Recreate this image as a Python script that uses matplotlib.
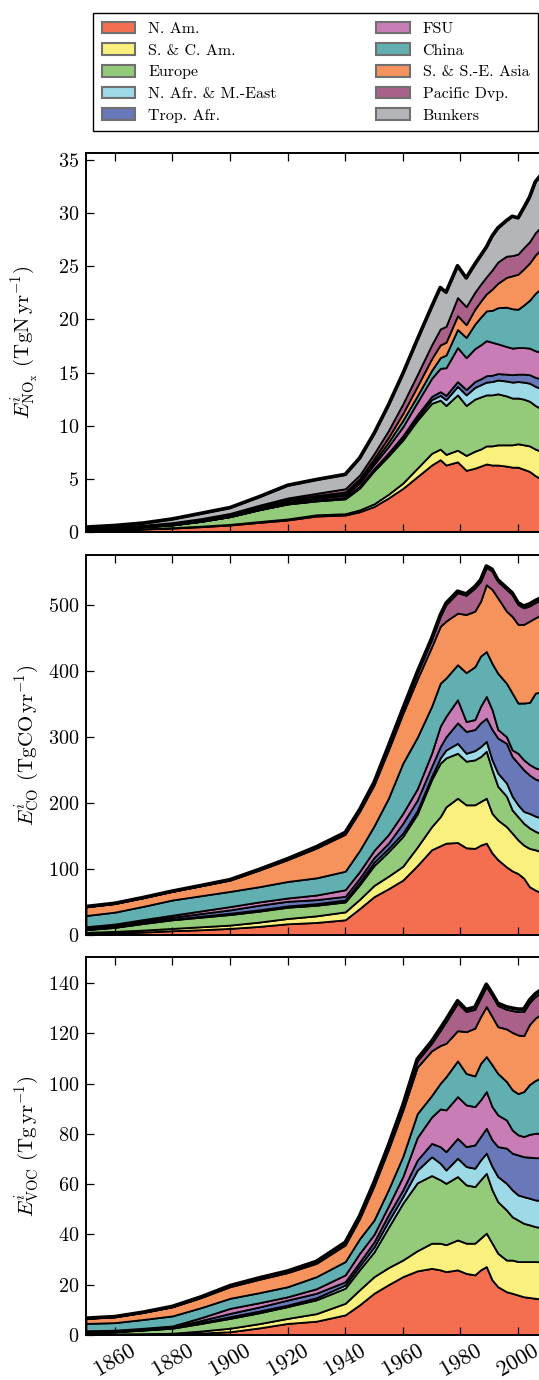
import numpy as np
import matplotlib
matplotlib.use("Agg")
import matplotlib.pyplot as plt
from matplotlib.patches import Patch

plt.rcParams['font.family'] = ['cmr10', 'DejaVu Serif']
plt.rcParams['mathtext.fontset'] = 'cm'
plt.rcParams['axes.formatter.use_mathtext'] = True

years = [1850, 1860, 1870, 1880, 1890, 1900, 1910, 1920, 1930, 1940, 1945, 1950, 1955,
         1960, 1965, 1970, 1973, 1975, 1979, 1982, 1985, 1987, 1989, 1991, 1993, 1996,
         1998, 2000, 2002, 2004, 2006, 2008, 2010]

regions = ["N. Am.", "S. & C. Am.", "Europe", "N. Afr. & M.-East", "Trop. Afr.",
           "FSU", "China", "S. & S.-E. Asia", "Pacific Dvp.", "Bunkers"]
colors = ["#F36F50", "#FAF07D", "#93CB7A", "#9DD9E6", "#6878B8",
          "#C97DB6", "#62AFB1", "#F6925B", "#A9618A", "#B4B5B8"]

# ---- NOx (TgN/yr) ----
nox_nam = [0.15, 0.2, 0.28, 0.37, 0.5, 0.66, 0.9, 1.13, 1.5, 1.6, 1.9, 2.4, 3.2, 4.1, 5.2, 6.3, 6.8, 6.3, 6.6, 5.8, 6.0, 6.2, 6.4, 6.3, 6.3, 6.2, 6.1, 6.1, 5.9, 5.7, 5.3, 5.0, 4.8]
nox_sca = [0.02, 0.02, 0.03, 0.04, 0.05, 0.06, 0.08, 0.1, 0.12, 0.12, 0.18, 0.25, 0.35, 0.5, 0.8, 1.1, 1.0, 1.0, 1.1, 1.4, 1.6, 1.6, 1.7, 1.8, 1.9, 2.0, 2.1, 2.2, 2.3, 2.4, 2.5, 2.6, 2.7]
nox_eur = [0.1, 0.13, 0.18, 0.25, 0.45, 0.72, 1.1, 1.4, 1.3, 1.4, 2.05, 3.1, 3.6, 4.05, 4.5, 4.7, 4.6, 4.6, 5.2, 4.7, 4.9, 4.9, 4.8, 4.8, 4.8, 4.6, 4.4, 4.3, 4.3, 4.2, 4.1, 4.0, 4.0]
nox_nafr = [0.005, 0.005, 0.007, 0.008, 0.008, 0.01, 0.02, 0.03, 0.04, 0.06, 0.08, 0.1, 0.15, 0.2, 0.25, 0.35, 0.45, 0.55, 0.8, 1.0, 1.1, 1.15, 1.2, 1.25, 1.3, 1.4, 1.5, 1.55, 1.6, 1.7, 1.8, 1.9, 2.0]
nox_tafr = [0.01, 0.01, 0.012, 0.015, 0.015, 0.02, 0.03, 0.04, 0.05, 0.08, 0.1, 0.12, 0.15, 0.2, 0.25, 0.3, 0.35, 0.4, 0.45, 0.5, 0.55, 0.55, 0.6, 0.6, 0.6, 0.65, 0.7, 0.7, 0.75, 0.8, 0.85, 0.9, 0.95]
nox_fsu = [0.02, 0.03, 0.04, 0.06, 0.07, 0.08, 0.12, 0.15, 0.18, 0.2, 0.3, 0.4, 0.6, 0.85, 1.2, 1.7, 2.2, 2.6, 3.2, 3.0, 3.1, 3.2, 3.3, 3.1, 2.8, 2.6, 2.5, 2.5, 2.5, 2.5, 2.5, 2.5, 2.5]
nox_china = [0.02, 0.02, 0.03, 0.04, 0.05, 0.06, 0.08, 0.1, 0.13, 0.18, 0.2, 0.25, 0.4, 0.6, 0.6, 0.75, 1.0, 1.2, 1.7, 1.9, 2.3, 2.6, 2.8, 3.0, 3.4, 3.7, 3.7, 3.6, 4.0, 4.5, 5.4, 6.0, 6.5]
nox_ssea = [0.02, 0.03, 0.04, 0.05, 0.06, 0.07, 0.08, 0.1, 0.12, 0.13, 0.2, 0.3, 0.45, 0.65, 0.9, 1.1, 1.2, 1.2, 1.3, 1.2, 1.4, 1.5, 1.6, 2.0, 2.3, 2.8, 3.1, 3.3, 3.4, 3.5, 3.6, 3.7, 3.8]
nox_pac = [0.02, 0.02, 0.03, 0.05, 0.06, 0.07, 0.1, 0.15, 0.2, 0.3, 0.35, 0.45, 0.65, 0.9, 1.1, 1.3, 1.5, 1.5, 1.7, 1.7, 1.6, 1.6, 1.6, 1.8, 2.0, 2.0, 1.9, 1.9, 2.0, 2.0, 2.1, 2.1, 2.2]
nox_bunk = [0.1, 0.15, 0.2, 0.35, 0.5, 0.55, 0.8, 1.2, 1.3, 1.35, 1.6, 1.9, 2.4, 2.85, 3.3, 3.6, 3.9, 3.2, 3.0, 2.7, 2.65, 2.7, 2.8, 3.2, 3.2, 3.35, 3.7, 3.4, 3.75, 4.2, 4.8, 4.9, 5.0]

# ---- CO (TgCO/yr) ----
co_nam = [2, 3, 4.5, 6.5, 8, 10, 13, 17, 19, 23, 40, 58, 70, 83, 105, 129, 135, 139, 140, 132, 131, 136, 139, 124, 114, 103, 97, 93, 86, 73, 68, 64, 60]
co_sca = [2, 2.5, 3, 3.5, 4.5, 5, 6.5, 8, 10, 12, 14, 17, 19, 21, 28, 35, 44, 55, 67, 65, 66, 66, 68, 60, 60, 61, 57, 51, 50, 58, 61, 62, 63]
co_eur = [4, 6, 10, 13, 14.5, 16, 16.5, 17, 16, 15, 22, 30, 37, 45, 50, 71, 81, 74, 68, 66, 68, 68, 71, 66, 51, 46, 35, 35, 33, 31, 28, 27, 26]
co_nafr = [0.5, 0.7, 1, 1, 1.5, 2, 2, 2, 2.5, 3, 4, 5, 5, 5, 5, 5, 8, 12, 15, 12, 14, 15, 15, 15, 20, 20, 21, 18, 18, 22, 23, 24, 25]
co_tafr = [2, 2.2, 2.5, 3, 4, 5, 7, 7, 6, 5.5, 6, 7, 8, 15, 16, 15, 17, 20, 31, 33, 32, 36, 35, 46, 53, 60, 60, 63, 63, 58, 56, 56, 57]
co_fsu = [2, 2.2, 2.5, 3, 4, 5, 5, 5, 7, 10, 10, 11, 13, 15, 17, 20, 31, 31, 35, 15, 15, 25, 33, 30, 13, 10, 10, 15, 15, 16, 17, 17, 17]
co_china = [17, 18, 20, 23, 23, 23, 23, 25, 26, 28, 32, 37, 55, 76, 78, 71, 65, 58, 53, 74, 80, 76, 68, 70, 85, 81, 86, 76, 86, 94, 113, 118, 122]
co_ssea = [13, 13, 13, 13, 15, 17, 25, 33, 45, 56, 59, 62, 73, 75, 88, 90, 86, 86, 78, 88, 84, 83, 101, 112, 114, 109, 116, 119, 119, 123, 114, 116, 118]
co_pac = [0.5, 0.3, 0.3, 0.3, 0.3, 0.5, 0.7, 1, 1.5, 2, 2, 3, 5, 6, 9, 11, 15, 25, 31, 29, 35, 30, 26, 28, 25, 33, 33, 30, 25, 23, 23, 23, 23]
co_bunk = [0.1, 0.1, 0.1, 0.2, 0.2, 0.3, 0.4, 0.5, 0.6, 0.7, 0.8, 1, 1.2, 1.5, 1.8, 2, 2.2, 2.2, 2.3, 2.2, 2.2, 2.3, 2.4, 2.4, 2.5, 2.6, 2.7, 2.8, 2.9, 3, 3.2, 3.3, 3.4]

# ---- VOC (Tg/yr) ----
voc_nam = [0.2, 0.25, 0.3, 0.4, 0.8, 1.3, 2.8, 4.6, 5.5, 8, 12, 16.6, 20, 23.2, 25.5, 26.5, 25.9, 25.2, 25.9, 24.5, 23.9, 25.9, 27.2, 21.9, 19.2, 17.2, 16.6, 15.9, 15.2, 14.9, 14.6, 14.3, 14]
voc_sca = [0.2, 0.2, 0.25, 0.3, 0.8, 1.4, 1.7, 2.0, 3.0, 4.6, 6, 6.6, 6.8, 6.6, 8, 10, 10.6, 10.7, 11.9, 12, 12.6, 12.6, 13.3, 14.6, 13.3, 12.6, 13.2, 13.3, 14, 14.3, 14.6, 14.8, 15]
voc_eur = [0.5, 0.8, 1.4, 2.0, 3.0, 3.9, 4.3, 4.7, 5.5, 6.0, 8, 9.8, 16, 22.6, 27, 26.9, 25.2, 24.4, 25.2, 23.2, 22.5, 23.2, 23.8, 21.2, 20.5, 19.9, 17.2, 16.5, 15.2, 14.6, 13.9, 13.6, 13.3]
voc_nafr = [0.1, 0.12, 0.15, 0.2, 0.4, 0.7, 0.7, 0.6, 0.8, 1.3, 1.5, 2, 2.5, 2.6, 5, 7.5, 6.6, 5.3, 7.3, 7.3, 7.3, 7.9, 8, 9.3, 10, 10.6, 10.7, 10, 10.6, 10.6, 10.6, 10.8, 11]
voc_tafr = [0.4, 0.3, 0.3, 0.3, 0.8, 1.3, 1.6, 2.0, 1.8, 1.3, 1.5, 2, 2.5, 2.7, 4, 5.3, 6.6, 7.3, 7.9, 7.9, 9.3, 9.3, 9.9, 10.6, 11.9, 14, 14.6, 15.9, 15.9, 16.3, 16.8, 17, 17.2]
voc_fsu = [0.3, 0.25, 0.3, 0.4, 1.1, 2.0, 1.7, 1.3, 1.8, 2.7, 3.5, 3, 3.5, 5.3, 9, 10.5, 15, 16.6, 16.6, 16.6, 15.2, 14.6, 14.6, 13.2, 12.6, 11.2, 9.2, 8, 8, 9.1, 9.7, 9.8, 9.9]
voc_china = [2.9, 3.0, 3.5, 4.0, 4.0, 4.0, 4.0, 4.0, 4.8, 5.3, 5.8, 5.7, 6.5, 8.0, 9.5, 8.5, 10.2, 13.2, 14.2, 12.5, 12.2, 14.5, 13.9, 16.6, 16.5, 15.3, 16, 16.4, 17.9, 19.8, 21, 22, 23]
voc_ssea = [2.0, 2.3, 2.8, 3.6, 4.0, 4.6, 5.3, 5.6, 5.3, 6.6, 8, 13.6, 16, 18.3, 18.5, 17.8, 15, 13.3, 12, 16.6, 19, 18.6, 19.9, 19.2, 18.6, 20.9, 22.8, 23.3, 22.2, 23.9, 24.8, 25.3, 25.8]
voc_pac = [0.05, 0.05, 0.07, 0.1, 0.2, 0.3, 0.4, 0.4, 0.5, 0.7, 0.7, 1, 1.2, 1.5, 2.5, 3, 6, 8.6, 11, 8, 7.5, 7.4, 8, 8.4, 8.4, 7.8, 8.7, 9.3, 9.6, 8.7, 8.6, 8.6, 8.6]
voc_bunk = [0.05, 0.05, 0.05, 0.1, 0.1, 0.15, 0.2, 0.25, 0.3, 0.35, 0.4, 0.45, 0.5, 0.6, 0.7, 0.8, 0.85, 0.85, 0.9, 0.85, 0.85, 0.9, 0.9, 0.9, 0.95, 1, 1, 1, 1, 1.05, 1.1, 1.1, 1.1]

nox = [nox_nam, nox_sca, nox_eur, nox_nafr, nox_tafr, nox_fsu, nox_china, nox_ssea, nox_pac, nox_bunk]
co = [co_nam, co_sca, co_eur, co_nafr, co_tafr, co_fsu, co_china, co_ssea, co_pac, co_bunk]
voc = [voc_nam, voc_sca, voc_eur, voc_nafr, voc_tafr, voc_fsu, voc_china, voc_ssea, voc_pac, voc_bunk]

W, H = 539, 1380
fig = plt.figure(figsize=(W / 100, H / 100), dpi=100)

x0 = 86 / W
xw = (2010 - 1850) * 2.88 / W
panels = [
    (nox, (153, 532), 35.65, np.arange(0, 36, 5),
     r'$E^i_{\mathrm{NO_x}}$ $\mathrm{(TgN\,yr^{-1})}$'),
    (co, (555, 935), 575, np.arange(0, 501, 100),
     r'$E^i_{\mathrm{CO}}$ $\mathrm{(TgCO\,yr^{-1})}$'),
    (voc, (957, 1335), 150.3, np.arange(0, 141, 20),
     r'$E^i_{\mathrm{VOC}}$ $\mathrm{(Tg\,yr^{-1})}$'),
]

for i, (data, (ytop, ybot), ymax, yt, lab) in enumerate(panels):
    ax = fig.add_axes([x0, 1 - ybot / H, xw, (ybot - ytop) / H])
    ax.stackplot(years, *data, colors=colors, edgecolor='k', linewidth=1.3)
    ax.plot(years, np.sum(np.array(data), axis=0), color='k', lw=2.6,
            solid_joinstyle='round')
    ax.set_xlim(1850, 2010)
    ax.set_ylim(0, ymax)
    ax.set_yticks(yt)
    ax.set_xticks(np.arange(1860, 2011, 20))
    ax.tick_params(direction='in', top=True, right=True, length=6, width=0.9,
                   labelsize=14.5, pad=5)
    ax.tick_params(axis='x', labelsize=16, pad=4)
    for s in ax.spines.values():
        s.set_linewidth(1.4)
    ax.set_ylabel(lab, fontsize=15)
    ax.yaxis.set_label_coords(-0.098, 0.5)
    if i < 2:
        ax.set_xticklabels([])
    else:
        for t in ax.get_xticklabels():
            t.set_rotation(30)
            t.set_ha('center')

handles = [Patch(facecolor=c, edgecolor='#707070', linewidth=1.5) for c in colors]
leg = fig.legend(handles, regions, ncol=2, loc='upper left',
                 bbox_to_anchor=(93 / W, 1 - 132 / H, 445 / W, 119 / H),
                 mode='expand', borderaxespad=0, fontsize=11.5, frameon=True,
                 fancybox=False, edgecolor='k', framealpha=1,
                 handlelength=2.1, handleheight=0.75, labelspacing=0.45,
                 handletextpad=0.8, borderpad=0.55)
leg.get_frame().set_linewidth(1.0)

fig.savefig('out.png', dpi=100)
